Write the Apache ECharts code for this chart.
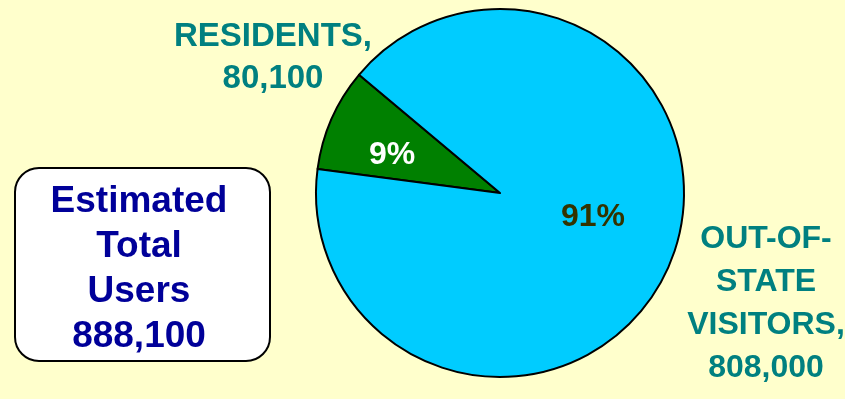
<!DOCTYPE html>
<html>
<head>
<meta charset="utf-8">
<script src="https://cdn.jsdelivr.net/npm/echarts@6/dist/echarts.min.js"></script>
<style>
html,body{margin:0;padding:0;background:#FFFFCC;}
#chart{width:845px;height:399px;}
</style>
</head>
<body>
<div id="chart"></div>
<script>
// 用户构成数据
var categories = ['RESIDENTS', 'OUT-OF-STATE VISITORS'];
var users = [80100, 808000];
var percents = ['9%', '91%'];
var sliceColors = ['#008000', '#00CCFF'];
var percentColors = ['#FFFFFF', '#333300'];
var outerLabels = ['RESIDENTS,\n80,100', 'OUT-OF-\nSTATE\nVISITORS,\n808,000'];
var totalLabel = 'Estimated\nTotal\nUsers\n888,100';

var FONT = '"Liberation Sans", Arial, sans-serif';
var pctOffsets = [[-21, 0], [6, -14]];

var myChart = echarts.init(document.getElementById('chart'));

var pieData = [];
for (var i = 0; i < categories.length; i++) {
	pieData.push({
		name: categories[i],
		value: users[i],
		itemStyle: { color: sliceColors[i] },
		label: {
			formatter: percents[i],
			color: percentColors[i],
			offset: pctOffsets[i]
		}
	});
}

myChart.setOption({
	backgroundColor: '#FFFFCC',
	animation: false,
	series: [{
		type: 'pie',
		center: [500, 193],
		radius: 184,
		startAngle: 172.5,
		clockwise: true,
		data: pieData,
		itemStyle: {
			borderColor: '#000000',
			borderWidth: 2
		},
		label: {
			show: true,
			position: 'inside',
			fontFamily: FONT,
			fontWeight: 'bold',
			fontSize: 32
		},
		labelLine: { show: false },
		emphasis: { disabled: true }
	}],
	graphic: [
		{
			type: 'text',
			x: 273, y: 16,
			style: {
				text: outerLabels[0],
				fill: '#008080',
				font: 'bold 33px ' + FONT,
				align: 'center',
				verticalAlign: 'top',
				lineHeight: 42
			}
		},
		{
			type: 'text',
			x: 766, y: 218,
			style: {
				text: outerLabels[1],
				fill: '#008080',
				font: 'bold 32px ' + FONT,
				align: 'center',
				verticalAlign: 'top',
				lineHeight: 43
			}
		},
		{
			type: 'rect',
			shape: { x: 15, y: 168, width: 255, height: 193, r: 24 },
			style: { fill: '#FFFFFF', stroke: '#000000', lineWidth: 2 }
		},
		{
			type: 'text',
			x: 139, y: 179,
			style: {
				text: totalLabel,
				fill: '#000099',
				font: 'bold 37px ' + FONT,
				align: 'center',
				verticalAlign: 'top',
				lineHeight: 45
			}
		}
	]
});
</script>
</body>
</html>
